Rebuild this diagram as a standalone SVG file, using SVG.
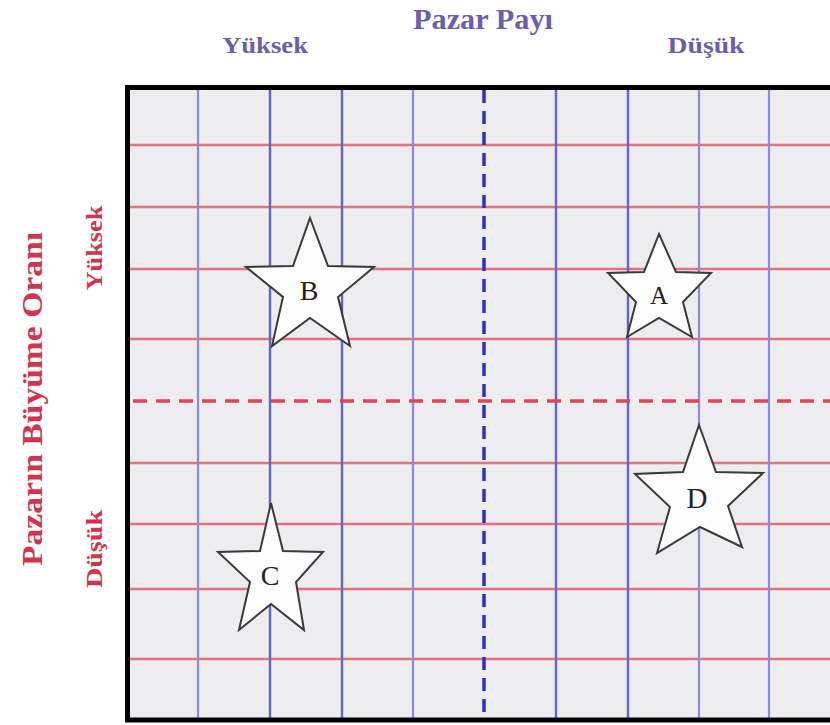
<svg xmlns="http://www.w3.org/2000/svg" width="830" height="725" viewBox="0 0 830 725">
<style>
.ttl{font-family:"Liberation Serif","Times New Roman",serif;font-weight:bold;}
.blue{fill:#6a5fae;}
.red{fill:#d2334f;}
.vl{stroke:#6464cf;stroke-width:2.4;}
.vl2{stroke:#8a8ae0;stroke-width:2.2;}
.hl{stroke:#e3727f;stroke-width:2.6;}
.star{fill:#fdfdfd;stroke:#3a3a3a;stroke-width:2;stroke-linejoin:miter;}
.lbl{font-family:"Liberation Serif","Times New Roman",serif;fill:#222;text-anchor:middle;}
</style>
<rect width="830" height="725" fill="#ffffff"/>
<g id="grid">
<rect x="127" y="87" width="703" height="633" fill="#ededf0"/>
<g>
<line class="hl" x1="130" y1="145" x2="830" y2="145"/>
<line class="hl" x1="130" y1="207" x2="830" y2="207"/>
<line class="hl" x1="130" y1="269" x2="830" y2="269"/>
<line class="hl" x1="130" y1="339" x2="830" y2="339"/>
<line class="hl" x1="130" y1="463" x2="830" y2="463"/>
<line class="hl" x1="130" y1="524" x2="830" y2="524"/>
<line class="hl" x1="130" y1="589" x2="830" y2="589"/>
<line class="hl" x1="130" y1="659" x2="830" y2="659"/>
</g>
<g>
<line class="vl2" x1="198" y1="90" x2="198" y2="718"/>
<line class="vl" x1="270" y1="90" x2="270" y2="718"/>
<line class="vl" x1="342" y1="90" x2="342" y2="718"/>
<line class="vl2" x1="413" y1="90" x2="413" y2="718"/>
<line class="vl" x1="556" y1="90" x2="556" y2="718"/>
<line class="vl" x1="628" y1="90" x2="628" y2="718"/>
<line class="vl2" x1="699" y1="90" x2="699" y2="718"/>
<line class="vl2" x1="769" y1="90" x2="769" y2="718"/>
</g>
<line x1="133" y1="401" x2="830" y2="401" stroke="#dc4658" stroke-width="3.5" stroke-dasharray="14 9"/>
<line x1="484" y1="90" x2="484" y2="718" stroke="#3030c0" stroke-width="3.5" stroke-dasharray="13 8"/>
<path d="M127.5,720 V87.5 H830 M125,720 H830" fill="none" stroke="#000" stroke-width="5"/>
</g>
<g id="labels">
<text class="ttl blue" x="483" y="29" font-size="29" text-anchor="middle" textLength="140" lengthAdjust="spacingAndGlyphs">Pazar Payı</text>
<text class="ttl blue" x="265" y="53" font-size="23" text-anchor="middle" textLength="86" lengthAdjust="spacingAndGlyphs">Yüksek</text>
<text class="ttl blue" x="706" y="53" font-size="23" text-anchor="middle" textLength="77" lengthAdjust="spacingAndGlyphs">Düşük</text>
<text class="ttl red" transform="translate(42,399) rotate(-90)" font-size="30" text-anchor="middle" textLength="334" lengthAdjust="spacingAndGlyphs">Pazarın Büyüme Oranı</text>
<text class="ttl red" transform="translate(102,248) rotate(-90)" font-size="23" text-anchor="middle" textLength="85" lengthAdjust="spacingAndGlyphs">Yüksek</text>
<text class="ttl red" transform="translate(102,549) rotate(-90)" font-size="23" text-anchor="middle" textLength="78" lengthAdjust="spacingAndGlyphs">Düşük</text>
</g>
<g id="starB">
<polygon class="star" points="310,218 328,266 374,267 338,297 350,346 310,318 272,346 283,297 246,267 293,266"/>
<text class="lbl" x="309" y="300" font-size="28">B</text>
</g>
<g id="starA">
<polygon class="star" points="659,234 676,272 711,273 683,302 692,337 659,318 627,337 636,302 608,273 644,272"/>
<text class="lbl" x="659" y="304" font-size="25">A</text>
</g>
<g id="starD">
<polygon class="star" points="699,425 716,472 763,473 728,506 742,547 700,527 657,553 670,507 635,474 683,472"/>
<text class="lbl" x="697" y="508" font-size="29">D</text>
</g>
<g id="starC">
<polygon class="star" points="271,503 283,551 323,552 296,582 304,630 271,604 239,630 250,582 218,552 260,551"/>
<text class="lbl" x="270" y="585" font-size="28">C</text>
</g>
</svg>
